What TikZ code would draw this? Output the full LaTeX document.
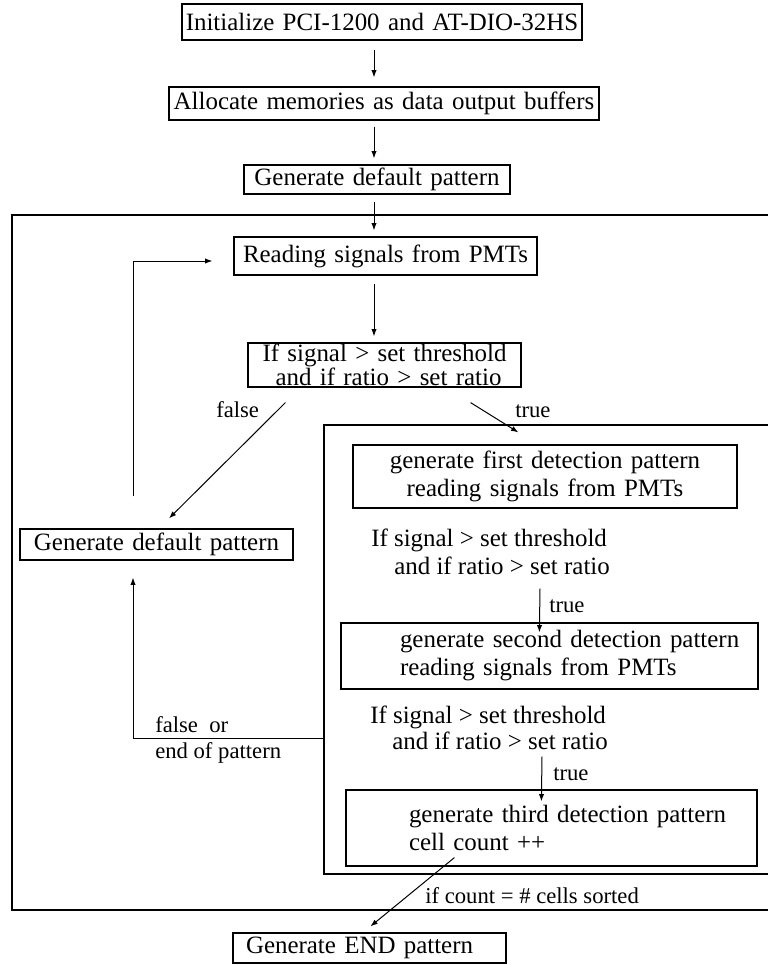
\documentclass[tikz,border=0pt]{standalone}
\usepackage{fontspec}
\setmainfont{Liberation Serif}
\usetikzlibrary{arrows.meta,calc}
\newcommand\MainFs{\fontsize{18.7}{21}\selectfont}
\newcommand\TightFs{\fontsize{18.7}{14.5}\selectfont}
\newcommand\LabFs{\fontsize{17}{19}\selectfont}
\begin{document}
\begin{tikzpicture}[x=0.75pt,y=-0.75pt,
  box/.style={draw, line width=0.9pt, inner sep=0pt, align=center, font=\MainFs},
  lbox/.style={draw, line width=0.9pt, inner sep=0pt, align=left, font=\MainFs},
  arr/.style={line width=0.75pt, -{Latex[length=5.5pt,width=4pt]}},
  frame/.style={line width=0.9pt},
  lab/.style={font=\LabFs, inner sep=0pt, anchor=base west},
  free/.style={font=\MainFs, inner sep=0pt, anchor=base west}]
\useasboundingbox (0,0) rectangle (768,965);

% outer and inner frames (open on the right)
\draw[frame] (768,215) -- (12,215) -- (12,910) -- (768,910);
\draw[frame] (768,425) -- (324,425) -- (324,874) -- (768,874);

\coordinate (cx) at (374,0);
\coordinate (lx) at (133,0);
\coordinate (ibj) at (324,738);

% top chain
\node[box, text width=300pt, minimum height=27pt] (b1) at (382,22) {Initialize PCI-1200 and AT-DIO-32HS};
\node[box, text width=322.5pt, minimum height=24.75pt] (b2) at (384,103.5) {Allocate memories as data output buffers};
\node[box, text width=199.5pt, minimum height=21.75pt] (b3) at (377,179.5) {Generate default pattern};
\node[box, text width=227.25pt, minimum height=28.5pt] (read) at (385.5,256) {Reading signals from PMTs};
\node[box, font=\TightFs, text width=204.75pt, minimum height=33pt] (ifb) at (384.5,365) {If signal > set threshold\\ \hspace*{6pt}and if ratio > set ratio};
\node[box, text width=204.75pt, minimum height=23.25pt] (gdp) at (156.5,544.5) {Generate default pattern};

% inner detection boxes
\node[box, text width=288pt, minimum height=47.25pt] (f1) at (545,476.5) {generate first detection pattern\\ reading signals from PMTs};
\node[lbox, text width=312.75pt, minimum height=49.5pt] (f2) at (549.5,656) {\hspace*{44.25pt}generate second detection pattern\\ \hspace*{44.25pt}reading signals from PMTs};
\node[lbox, text width=308.25pt, minimum height=57pt] (f3) at (551.5,828) {\hspace*{47.25pt}generate third detection pattern\\ \hspace*{47.25pt}cell count ++};
\node[lbox, text width=204.75pt, minimum height=22.5pt] (endb) at (369.5,948) {\hspace*{9.75pt}Generate END pattern};

% free condition texts
\node[free] (c1a) at (371,546) {If signal > set threshold};
\node[free] (c1b) at (394,574) {and if ratio > set ratio};
\node[free] (c2a) at (370,723) {If signal > set threshold};
\node[free] (c2b) at (392,749) {and if ratio > set ratio};

% labels
\node[lab] (lfalse) at (216,417) {false};
\node[lab] (ltrue) at (515,417) {true};
\node[lab] (ltrue1) at (549,612) {true};
\node[lab] (ltrue2) at (553,780) {true};
\node[lab] (lfor) at (155,732) {false\ \ or};
\node[lab] (leop) at (155,758) {end of pattern};
\node[lab] (lcount) at (425,903) {if count = \# cells sorted};

% connectors
\draw[arr, shorten <=6.75pt, shorten >=6.75pt] (b1.south -| cx) -- (b2.north -| cx);
\draw[arr, shorten <=4.5pt, shorten >=4.5pt] (b2.south -| cx) -- (b3.north -| cx);
\draw[arr, shorten <=5.25pt, shorten >=4.5pt] (b3.south -| cx) -- (read.north -| cx);
\draw[arr, shorten <=6pt, shorten >=4.5pt] (read.south -| cx) -- (ifb.north -| cx);
\draw[arr] ($(gdp.north -| lx)+(0,-32)$) |- ($(read.west)+(-21,5)$);
\draw[arr] ($(ifb.south west)+(38,15)$) -- ($(gdp.north)+(12.5,-10)$);
\draw[arr] ($(ifb.south east)+(-51,15)$) -- ($(f1.north west)+(166,-12)$);
\draw[arr] (ibj) -| ($(gdp.south -| lx)+(0,17)$);
\draw[arr] ($(c1b.south west)+(146,14)$) -- ($(f2.north west)+(199,10)$);
\draw[arr] ($(c2b.south west)+(150,7)$) -- ($(f3.north west)+(196,12)$);
\draw[arr] ($(f3.south west)+(109,-9)$) -- ($(endb.north west)+(138,-6)$);
\end{tikzpicture}
\end{document}
